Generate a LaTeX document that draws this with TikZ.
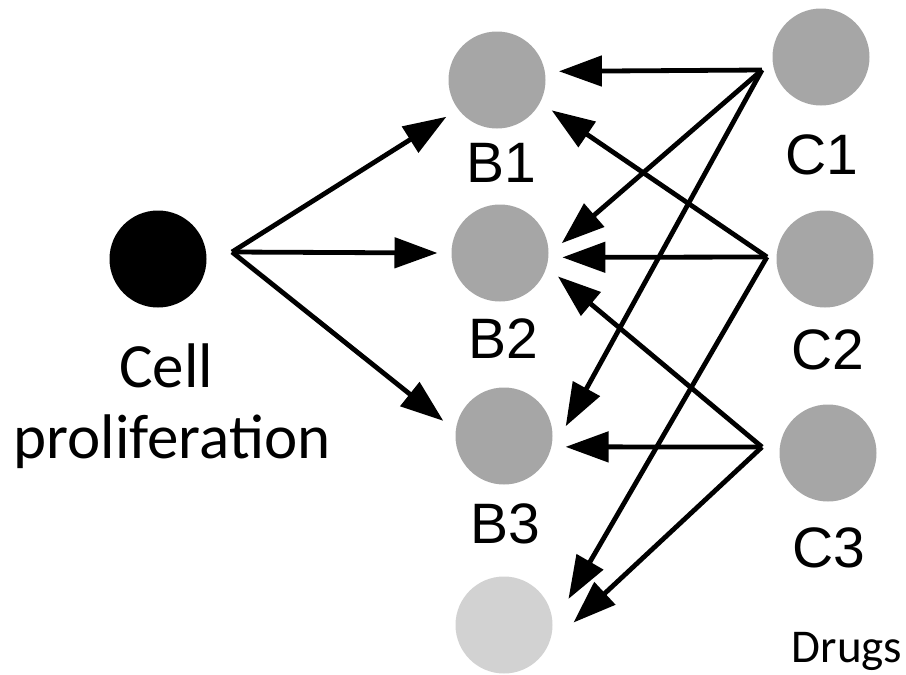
\documentclass[tikz,border=0pt]{standalone}
\usepackage{fontspec}
\usepackage{tikz}
\usetikzlibrary{arrows.meta}
\newfontfamily\arialfont{Liberation Sans}
\newfontfamily\calfont{Carlito}
\definecolor{ballgray}{HTML}{A6A6A6}
\definecolor{ballpale}{HTML}{D2D2D2}
\tikzset{
  ball/.style={circle, fill=#1, inner sep=0pt, minimum size=97pt, outer sep=14pt},
  arr/.style={line width=4.8pt, -{Triangle[length=43pt,width=30pt]}},
  tag/.style={font=\arialfont\fontsize{57}{62}\selectfont, inner sep=0pt},
  bigtxt/.style={font=\calfont\fontsize{63}{70}\selectfont, inner sep=0pt, anchor=base},
}

\begin{document}
\begin{tikzpicture}[x=1pt,y=-1pt]
\useasboundingbox (0,0) rectangle (906,675);
% proliferation node
\node[ball=black] (cp) at (158,259) {};
\node[bigtxt] (cellt) at (166,387) {Cell};
\node[bigtxt] (prolt) at (172,458) {proliferation};
\coordinate (s0) at (232,252);
% middle column
\node[ball=ballgray] (b1) at (497,80) {};
\node[ball=ballgray] (b2) at (500,253) {};
\node[ball=ballgray] (b3) at (504,436) {};
\node[ball=ballpale, outer sep=21pt] (b4) at (504,625) {};
\node[tag] (b1t) at (501,163) {B1};
\node[tag] (b2t) at (503,339) {B2};
\node[tag] (b3t) at (505,524) {B3};
% drugs
\node[ball=ballgray] (c1) at (821,57) {};
\node[ball=ballgray] (c2) at (825,259) {};
\node[ball=ballgray] (c3) at (828,453) {};
\node[tag] (c1t) at (822,155) {C1};
\node[tag] (c2t) at (828,350) {C2};
\node[tag] (c3t) at (829,548) {C3};
\node[bigtxt, font=\calfont\fontsize{47}{52}\selectfont] (drugs) at (847,662) {Drugs};
\coordinate (s1) at (762,70);
\coordinate (s2) at (767,257);
\coordinate (s3) at (762,447);

\draw[arr] (s0) -- (b1.216);
\draw[arr] (s0) -- (b2.180);
\draw[arr] (s0) -- (b3.166);

\draw[arr] (s1) -- (b1.8);
\draw[arr] (s1) -- (b2.9);
\draw[arr] (s1) -- (b3.9);

\draw[arr] (s2) -- (b1.-29);
\draw[arr] (s2) -- (b2.-4);
\draw[arr] (s2) -- (b4.22);

\draw[arr] (s3) -- (b2.-22);
\draw[arr] (s3) -- (b3.-10);
\draw[arr] (s3) -- (b4.2);
\end{tikzpicture}
\end{document}
